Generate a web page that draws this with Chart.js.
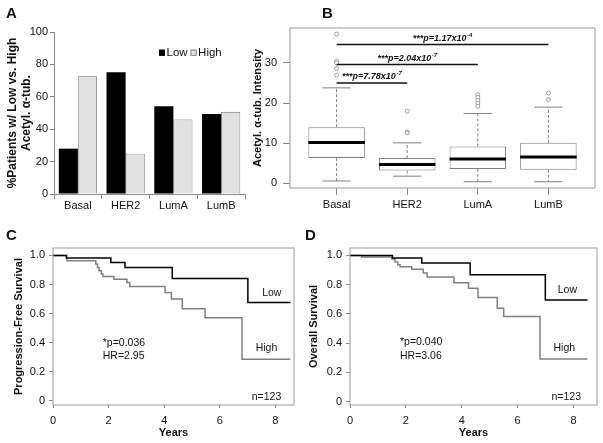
<!DOCTYPE html>
<html><head><meta charset="utf-8">
<script src="https://cdn.jsdelivr.net/npm/chart.js@4.4.1/dist/chart.umd.min.js"></script>
<style>
html,body{margin:0;padding:0;background:#fff}
#wrap{position:relative;width:603px;height:443px;overflow:hidden;font-family:"Liberation Sans",Arial,sans-serif;background:#fff}
.pane{position:absolute}
.pane canvas{display:block}
.tag{position:absolute;font-weight:bold;font-size:15px;line-height:15px;color:#111}
</style></head><body>
<div id="wrap">
 <div class="pane" style="left:0;top:0;width:250px;height:220px"><canvas id="chartA"></canvas></div>
 <div class="pane" style="left:250px;top:0;width:353px;height:220px"><canvas id="chartB"></canvas></div>
 <div class="pane" style="left:0;top:220px;width:300px;height:223px"><canvas id="chartC"></canvas></div>
 <div class="pane" style="left:300px;top:220px;width:303px;height:223px"><canvas id="chartD"></canvas></div>
 <div class="tag" style="left:6px;top:5px">A</div>
 <div class="tag" style="left:322px;top:5px">B</div>
 <div class="tag" style="left:6px;top:227px">C</div>
 <div class="tag" style="left:305px;top:227px">D</div>
</div>
<script>
// ---------- data ----------
const subtypes = ['Basal', 'HER2', 'LumA', 'LumB'];
const pctLow  = [28.0, 75.2, 54.2, 49.4];
const pctHigh = [72.7, 24.8, 46.0, 50.7];
const pctTicks = [0, 20, 40, 60, 80, 100];

const boxQ1      = [6.3, 3.2, 3.6, 3.4];
const boxMedian  = [10.2, 4.7, 6.1, 6.6];
const boxQ3      = [14.0, 6.3, 9.2, 10.1];
const whiskerLow  = [0.6, 1.8, 0.4, 0.4];
const whiskerHigh = [23.8, 10.1, 17.4, 19.0];
const outliersBasal = [37.2, 30.5, 30.0, 28.6, 27.0];
const outliersHER2  = [18.0, 12.8, 12.6];
const outliersLumA  = [22.1, 21.4, 20.7, 20.0, 19.2];
const outliersLumB  = [22.5, 20.9];
const intensityTicks = [0, 10, 20, 30];
const sigCompareTo = ['HER2', 'LumA', 'LumB'];
const sigBarLevel  = [25.0, 29.6, 34.6];
const sigPMantissa = ['7.78', '2.04', '1.17'];
const sigPExponent = ['-7', '-7', '-4'];

const pfsLowYears  = [0, 0.48, 2.08, 2.59, 4.29, 7.01, 8.54];
const pfsLowSurv   = [1.0, 0.982, 0.952, 0.917, 0.842, 0.677, 0.677];
const pfsHighYears = [0, 0.50, 1.54, 1.60, 1.66, 1.74, 1.80, 2.19, 2.66, 2.76, 4.03, 4.26, 4.65, 5.47, 6.80, 8.54];
const pfsHighSurv  = [1.0, 0.963, 0.941, 0.917, 0.895, 0.872, 0.855, 0.837, 0.814, 0.787, 0.745, 0.700, 0.633, 0.571, 0.287, 0.287];

const osLowYears  = [0, 1.52, 2.57, 4.30, 6.99, 8.50];
const osLowSurv   = [1.0, 0.982, 0.948, 0.868, 0.696, 0.696];
const osHighYears = [0, 0.42, 1.50, 1.61, 1.71, 1.79, 2.21, 2.62, 2.76, 3.72, 4.24, 4.58, 5.27, 5.50, 6.80, 8.50];
const osHighSurv  = [1.0, 0.99, 0.975, 0.955, 0.936, 0.922, 0.905, 0.880, 0.853, 0.813, 0.775, 0.712, 0.639, 0.582, 0.292, 0.292];

const survTicks = [0, 0.2, 0.4, 0.6, 0.8, 1.0];
const yearTicks = [0, 2, 4, 6, 8];

// ---------- helpers ----------
const FONT = '"Liberation Sans", Arial, sans-serif';
Chart.defaults.font.family = FONT;
Chart.defaults.font.size = 11;
Chart.defaults.color = '#111';
Chart.defaults.animation = false;
Chart.defaults.plugins.legend.display = false;
Chart.defaults.plugins.tooltip.enabled = false;
const AXIS = '#8a8a8a';
const GREY = '#7f7f7f';

const fixWidth = w => s => { s.width = w; };
const fixHeight = h => s => { s.height = h; };
const setTicks = vals => s => { s.ticks = vals.map(v => ({ value: v })); };

const framePlugin = {
  id: 'frame',
  afterDatasetsDraw(chart, args, o) {
    if (!o || !o.color) return;
    const { ctx, chartArea: c } = chart;
    ctx.save();
    ctx.strokeStyle = o.color; ctx.lineWidth = 1;
    ctx.strokeRect(c.left, c.top, c.right - c.left, c.bottom - c.top);
    ctx.restore();
  }
};

const notesPlugin = {
  id: 'notes',
  afterDatasetsDraw(chart, args, opts) {
    const items = (opts && opts.items) || [];
    const { ctx } = chart; const xs = chart.scales.x, ys = chart.scales.y;
    items.forEach(it => {
      ctx.save();
      ctx.fillStyle = '#111';
      ctx.textBaseline = 'middle';
      ctx.textAlign = 'left';
      ctx.font = it.font;
      let px = xs.getPixelForValue(it.x);
      if (it.x2 !== undefined) px = (px + xs.getPixelForValue(it.x2)) / 2;
      const py = ys.getPixelForValue(it.y) + (it.dy || 0);
      const w1 = ctx.measureText(it.text).width;
      let w2 = 0;
      if (it.sup) { ctx.font = it.supFont; w2 = ctx.measureText(it.sup).width + 0.5; ctx.font = it.font; }
      const total = w1 + w2;
      const start = it.align === 'left' ? px : (it.align === 'right' ? px - total : px - total / 2);
      ctx.fillText(it.text, start, py);
      if (it.sup) { ctx.font = it.supFont; ctx.fillText(it.sup, start + w1 + 0.5, py - 3); }
      ctx.restore();
    });
  }
};

const boxLegendPlugin = {
  id: 'boxLegend',
  afterDraw(chart, args, o) {
    const { ctx } = chart;
    ctx.save();
    ctx.font = '11.5px ' + FONT; ctx.textBaseline = 'middle'; ctx.textAlign = 'left';
    let x = o.x; const y = o.y, s = o.box;
    chart.data.datasets.forEach(ds => {
      ctx.fillStyle = ds.backgroundColor; ctx.fillRect(x, y - s / 2, s, s);
      ctx.strokeStyle = ds.borderColor; ctx.lineWidth = 0.8;
      ctx.strokeRect(x + 0.4, y - s / 2 + 0.4, s - 0.8, s - 0.8);
      x += s + 1.5;
      ctx.fillStyle = '#111'; ctx.fillText(ds.label, x, y);
      x += ctx.measureText(ds.label).width + 3;
    });
    ctx.restore();
  }
};

// ---------- Panel A ----------
new Chart(document.getElementById('chartA'), {
  type: 'bar',
  data: {
    labels: subtypes,
    datasets: [
      { label: 'Low', data: pctLow, backgroundColor: '#000', borderColor: '#000', borderWidth: 0 },
      { label: 'High', data: pctHigh, backgroundColor: '#e1e1e1', borderColor: '#6a6a6a', borderWidth: 0.8 }
    ]
  },
  options: {
    responsive: true, maintainAspectRatio: false,
    layout: { padding: { top: 32, right: 5, left: 0, bottom: 0 } },
    datasets: { bar: { categoryPercentage: 0.8, barPercentage: 1.0 } },
    scales: {
      x: {
        grid: { display: true, drawOnChartArea: false, offset: true, tickLength: 5, tickColor: AXIS },
        border: { color: AXIS }, ticks: { padding: 0 }, afterFit: fixHeight(26)
      },
      y: {
        min: 0, max: 100, afterBuildTicks: setTicks(pctTicks),
        grid: { drawOnChartArea: false, tickLength: 4, tickColor: AXIS },
        border: { color: AXIS }, ticks: { padding: 2 },
        title: { display: true, text: ['%Patients w/ Low vs. High', 'Acetyl. α-tub.'],
          font: { size: 12, weight: 'bold', lineHeight: '14px' }, padding: { top: 6, bottom: 0 } },
        afterFit: fixWidth(54)
      }
    },
    plugins: { boxLegend: { x: 159, y: 52.7, box: 6 } }
  },
  plugins: [boxLegendPlugin]
});

// ---------- Panel B ----------
const bx = subtypes.map((s, i) => i + 1);
const boxData = bx.map((x, i) => ({ x, y: [boxQ1[i], boxQ3[i]] }));
const medianData = [], whiskerData = [], capData = [];
bx.forEach((x, i) => {
  medianData.push({ x: x - 0.4, y: boxMedian[i] }, { x: x + 0.4, y: boxMedian[i] }, { x, y: null });
  whiskerData.push({ x, y: boxQ3[i] }, { x, y: whiskerHigh[i] }, { x, y: null },
                   { x, y: boxQ1[i] }, { x, y: whiskerLow[i] }, { x, y: null });
  capData.push({ x: x - 0.2, y: whiskerHigh[i] }, { x: x + 0.2, y: whiskerHigh[i] }, { x, y: null },
               { x: x - 0.2, y: whiskerLow[i] }, { x: x + 0.2, y: whiskerLow[i] }, { x, y: null });
});
const outlierData = [];
[outliersBasal, outliersHER2, outliersLumA, outliersLumB].forEach((arr, i) =>
  arr.forEach(v => outlierData.push({ x: i + 1, y: v })));
const sigData = [];
sigCompareTo.forEach((name, k) => {
  const to = subtypes.indexOf(name) + 1;
  sigData.push({ x: 1, y: sigBarLevel[k] }, { x: to, y: sigBarLevel[k] }, { x: 1, y: null });
});
const sigNotes = sigCompareTo.map((name, k) => ({
  text: '***p=' + sigPMantissa[k] + 'x10', sup: sigPExponent[k],
  x: 1, x2: subtypes.indexOf(name) + 1, y: sigBarLevel[k], dy: -6.5,
  font: 'italic bold 9px ' + FONT, supFont: 'italic bold 6px ' + FONT, align: 'center'
}));

new Chart(document.getElementById('chartB'), {
  type: 'bar',
  data: {
    datasets: [
      { type: 'line', data: medianData, borderColor: '#000', borderWidth: 3, pointRadius: 0, spanGaps: false, order: 0 },
      { type: 'line', data: sigData, borderColor: '#111', borderWidth: 1.5, pointRadius: 0, spanGaps: false, order: 0 },
      { type: 'line', data: outlierData, showLine: false, pointRadius: 2, pointStyle: 'circle',
        pointBorderColor: '#8a8a8a', pointBackgroundColor: '#fff', pointBorderWidth: 0.8, order: 0 },
      { type: 'bar', data: boxData, backgroundColor: '#fff', borderColor: GREY, borderWidth: 1,
        borderSkipped: false, categoryPercentage: 0.8, barPercentage: 1.0, order: 1 },
      { type: 'line', data: whiskerData, borderColor: GREY, borderWidth: 1, borderDash: [3, 2], pointRadius: 0, spanGaps: false, order: 2 },
      { type: 'line', data: capData, borderColor: GREY, borderWidth: 1, pointRadius: 0, spanGaps: false, order: 2 }
    ]
  },
  options: {
    responsive: true, maintainAspectRatio: false,
    layout: { padding: { top: 28, right: 8, left: 0, bottom: 0 } },
    scales: {
      x: {
        type: 'linear', min: 0.34, max: 4.66, offset: false, afterBuildTicks: setTicks(bx),
        grid: { display: true, drawOnChartArea: false, offset: false, tickLength: 7, tickColor: AXIS },
        border: { display: false },
        ticks: { padding: 3, callback: v => subtypes[Math.round(v) - 1] },
        afterFit: fixHeight(32)
      },
      y: {
        type: 'linear', min: -1.15, max: 38.72, beginAtZero: false, afterBuildTicks: setTicks(intensityTicks),
        grid: { drawOnChartArea: false, tickLength: 7, tickColor: AXIS },
        border: { display: false }, ticks: { padding: 6 },
        title: { display: true, text: 'Acetyl. α-tub. Intensity',
          font: { size: 11, weight: 'bold', lineHeight: '13px' }, padding: { top: 1.5, bottom: 0 } },
        afterFit: fixWidth(40)
      }
    },
    plugins: { frame: { color: '#9a9a9a' }, notes: { items: sigNotes } }
  },
  plugins: [framePlugin, notesPlugin]
});

// ---------- Panels C & D ----------
const kmPoints = (years, surv) => years.map((t, i) => ({ x: t, y: surv[i] }));
const NOTE_FONT = '10.5px ' + FONT;

function kmChart(id, lowY, lowS, highY, highS, cfg) {
  return new Chart(document.getElementById(id), {
    type: 'line',
    data: {
      datasets: [
        { label: 'Low', data: kmPoints(lowY, lowS), borderColor: '#000', borderWidth: 1.5, stepped: 'before', pointRadius: 0, fill: false },
        { label: 'High', data: kmPoints(highY, highS), borderColor: '#808080', borderWidth: 1.5, stepped: 'before', pointRadius: 0, fill: false }
      ]
    },
    options: {
      responsive: true, maintainAspectRatio: false,
      layout: { padding: { top: 28, right: 6, left: 0, bottom: 0 } },
      scales: {
        x: {
          type: 'linear', min: 0, max: cfg.xMax, afterBuildTicks: setTicks(yearTicks),
          grid: { drawOnChartArea: false, tickLength: 3, tickColor: AXIS },
          border: { display: false }, ticks: { padding: 6 },
          title: { display: true, text: 'Years', font: { size: 11, weight: 'bold', lineHeight: '13px' }, padding: { top: 0, bottom: 3.5 } },
          afterFit: fixHeight(38)
        },
        y: {
          type: 'linear', min: cfg.yMin, max: 1.051, afterBuildTicks: setTicks(survTicks),
          grid: { drawOnChartArea: false, tickLength: 4, tickColor: AXIS },
          border: { display: false },
          ticks: { padding: 4, callback: v => (v === 0 ? '0' : v.toFixed(1)) },
          title: { display: true, text: cfg.yTitle, font: { size: 11, weight: 'bold', lineHeight: '13px' }, padding: { top: cfg.titlePad, bottom: 0 } },
          afterFit: fixWidth(cfg.yWidth)
        }
      },
      plugins: { frame: { color: '#9a9a9a' }, notes: { items: cfg.notes } }
    },
    plugins: [framePlugin, notesPlugin]
  });
}

kmChart('chartC', pfsLowYears, pfsLowSurv, pfsHighYears, pfsHighSurv, {
  xMax: 8.67, yMin: -0.0275, yTitle: 'Progression-Free Survival', titlePad: 12, yWidth: 53,
  notes: [
    { text: '*p=0.036', x: 1.79, y: 0.40, align: 'left', font: NOTE_FONT },
    { text: 'HR=2.95', x: 1.79, y: 0.31, align: 'left', font: NOTE_FONT },
    { text: 'Low', x: 7.87, y: 0.74, align: 'center', font: NOTE_FONT },
    { text: 'High', x: 7.68, y: 0.365, align: 'center', font: NOTE_FONT },
    { text: 'n=123', x: 7.68, y: 0.03, align: 'center', font: NOTE_FONT }
  ]
});

kmChart('chartD', osLowYears, osLowSurv, osHighYears, osHighSurv, {
  xMax: 8.84, yMin: -0.023, yTitle: 'Overall Survival', titlePad: 7, yWidth: 50,
  notes: [
    { text: '*p=0.040', x: 1.79, y: 0.404, align: 'left', font: NOTE_FONT },
    { text: 'HR=3.06', x: 1.79, y: 0.313, align: 'left', font: NOTE_FONT },
    { text: 'Low', x: 7.78, y: 0.764, align: 'center', font: NOTE_FONT },
    { text: 'High', x: 7.67, y: 0.368, align: 'center', font: NOTE_FONT },
    { text: 'n=123', x: 7.74, y: 0.034, align: 'center', font: NOTE_FONT }
  ]
});
</script>
</body></html>
